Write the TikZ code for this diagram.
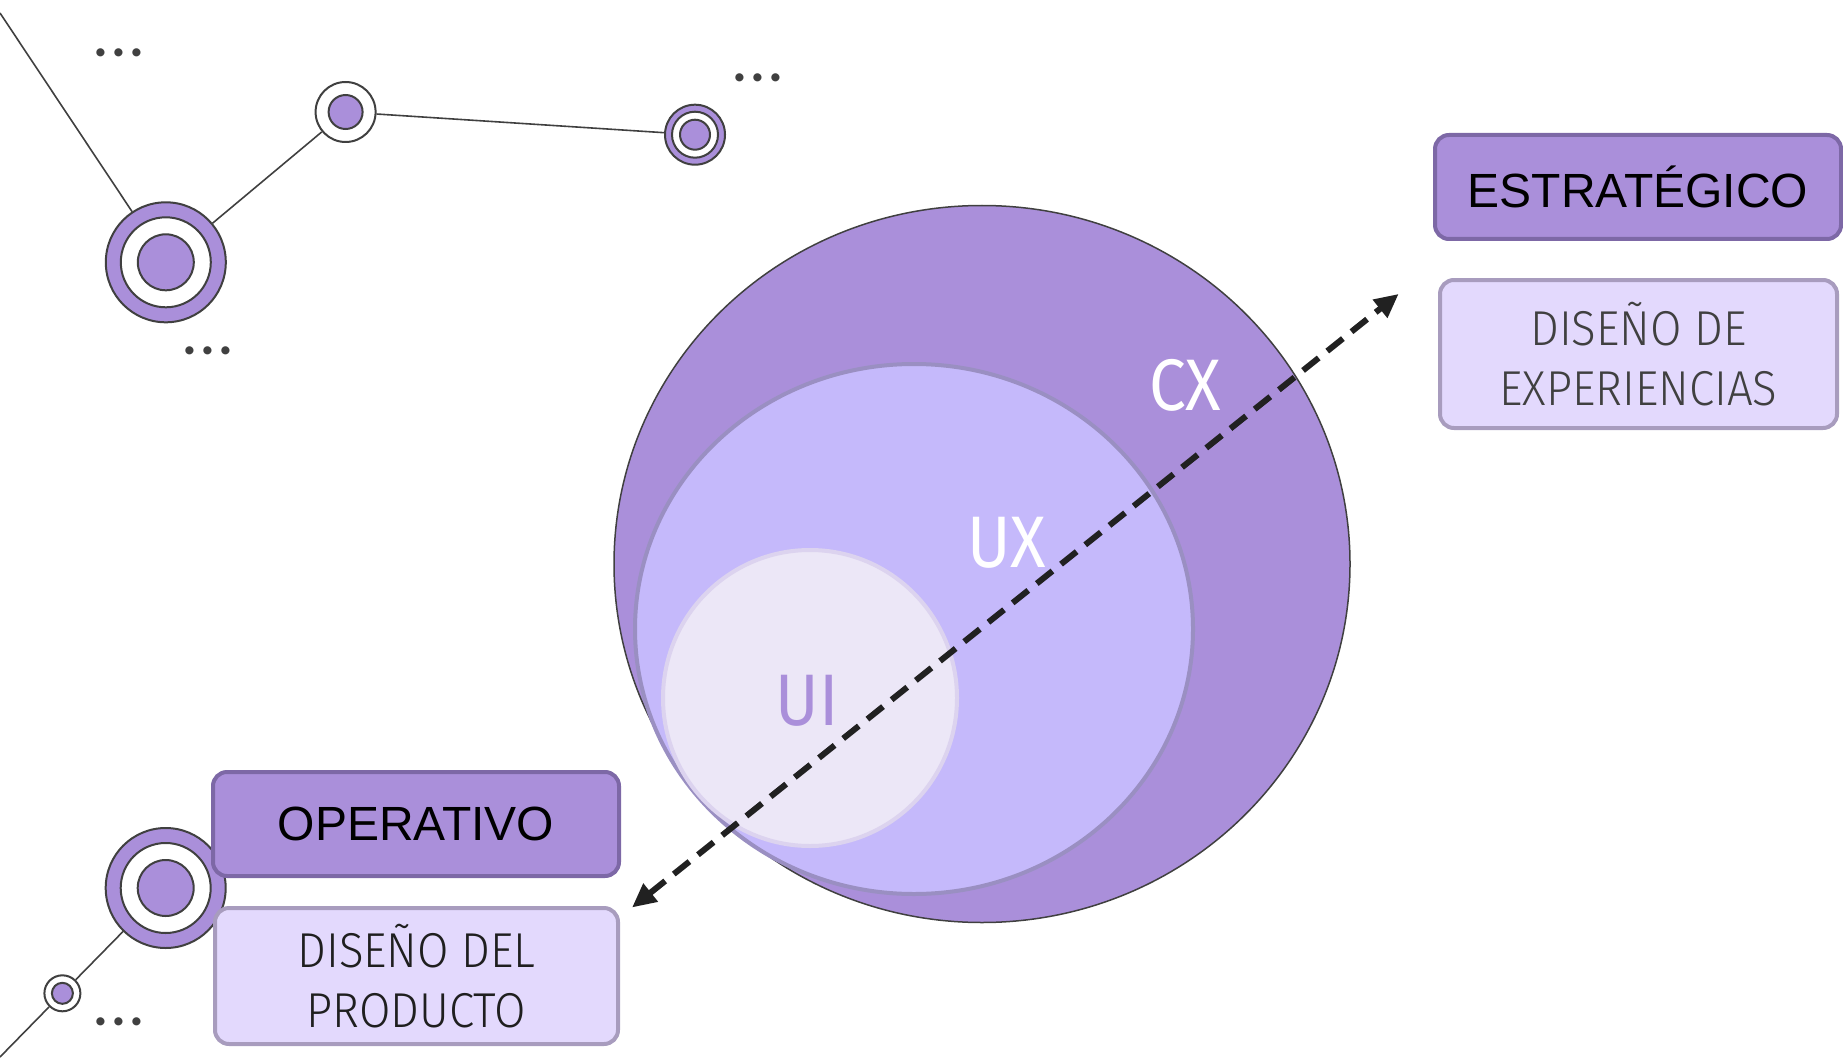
\documentclass[tikz,border=0pt]{standalone}
\usepackage{fontspec}
\setmainfont{Liberation Sans}
\newfontfamily\cond[UprightFont={* Light}, FakeStretch=0.93]{Fira Sans}
\newfontfamily\condlab[FakeStretch=0.9]{Fira Sans}
\newfontfamily\dotfont{Lato}
\newcommand{\mydots}{.\hspace{5pt}.\hspace{5pt}.}
\usetikzlibrary{arrows.meta,shapes.geometric}
\definecolor{purp}{HTML}{AA8FDA}
\definecolor{edge}{HTML}{404040}
\definecolor{boxedge}{HTML}{7D68A6}
\definecolor{lightfill}{HTML}{E3D9FD}
\definecolor{lightedge}{HTML}{A89CBE}
\definecolor{uxfill}{HTML}{C5B9FB}
\definecolor{uxedge}{HTML}{9A8FC2}
\definecolor{uifill}{HTML}{ECE7F7}
\definecolor{uiedge}{HTML}{DCD3EF}
\definecolor{txtgray}{HTML}{404040}
\begin{document}
\begin{tikzpicture}[x=1pt,y=-1pt,
  ring/.style={circle, draw=edge, line width=2pt, inner sep=0pt, minimum size=#1},
  conn/.style={draw=edge, line width=1.6pt},
  darkbox/.style={rounded corners=14pt, fill=purp, draw=boxedge, line width=4pt, inner sep=0pt,
    font=\fontsize{48}{57}\selectfont, text=black},
  lightbox/.style={rounded corners=14pt, fill=lightfill, draw=lightedge, line width=4pt, inner sep=0pt,
    font=\cond\fontsize{49}{60}\selectfont, text=txtgray, align=center},
  biglabel/.style={font=\condlab\fontsize{73}{73}\selectfont},
  dots/.style={font=\dotfont\bfseries\fontsize{54}{54}\selectfont, text=edge, anchor=base, inner sep=0pt},
  darrow/.style={draw=black!87, line width=6pt, dash pattern=on 20pt off 11pt,
    {Triangle[length=24pt,width=22pt]}-{Triangle[length=24pt,width=22pt]}}
]
\useasboundingbox (0,0) rectangle (1843,1059);

% connector free ends
\coordinate (tl) at (0,13);
\coordinate (bl) at (0,1057);

% network nodes (top-left)
\node[ring=120, fill=purp] (b1) at (165.8,262.3) {};
\node[ring=90, fill=white] (b1w) at (165.8,262.3) {};
\node[ring=56, fill=purp] (b1i) at (165.8,262.3) {};

\node[ring=60, fill=white] (n2) at (345.6,112) {};
\node[ring=34, fill=purp] (n2i) at (345.6,112) {};

\node[ring=60, fill=purp] (n3) at (695,134.7) {};
\node[ring=46, fill=white] (n3w) at (695,134.7) {};
\node[ring=30, fill=purp] (n3i) at (695,134.7) {};

% network nodes (bottom-left)
\node[ring=120, fill=purp] (b2) at (165.7,888) {};
\node[ring=90, fill=white] (b2w) at (165.7,888) {};
\node[ring=56, fill=purp] (b2i) at (165.7,888) {};

\node[ring=36, fill=white] (sm) at (62.4,993.3) {};
\node[ring=21, fill=purp] (smi) at (62.4,993.3) {};

% connectors
\draw[conn] (tl) -- (b1);
\draw[conn] (b1) -- (n2);
\draw[conn] (n2) -- (n3);
\draw[conn] (bl) -- (sm);
\draw[conn] (sm) -- (b2);

% dots
\node[dots] (d1) at (119,57) {\mydots};
\node[dots] (d2) at (758,82) {\mydots};
\node[dots] (d3) at (208,354) {\mydots};
\node[dots] (d4) at (119,1025) {\mydots};

% main diagram
\node[ellipse, fill=purp, draw=edge, line width=1.5pt, inner sep=0pt,
  minimum width=736, minimum height=717] (cx) at (982,564) {};
\node[ellipse, fill=uxfill, draw=uxedge, line width=4pt, inner sep=0pt,
  minimum width=558, minimum height=530] (ux) at (914,629) {};
\node[ellipse, fill=uifill, draw=uiedge, line width=4pt, inner sep=0pt,
  minimum width=294, minimum height=296] (ui) at (810,698) {};

\node[biglabel, text=white] (cxl) at (1185,385) {CX};
\node[biglabel, text=white] (uxl) at (1007,543) {UX};
\node[biglabel, text=purp] (uil) at (807,701) {UI};

% boxes
\node[darkbox, minimum width=406, minimum height=104] (estr) at (1638,187) {ESTRATÉGICO};
\node[lightbox, minimum width=397, minimum height=148] (dexp) at (1638.5,354) {DISEÑO DE\\EXPERIENCIAS};
\node[darkbox, minimum width=406, minimum height=104] (oper) at (416,824) {OPERATIVO};
\node[lightbox, minimum width=403, minimum height=136, text=black!88] (dprod) at (416.5,976) {DISEÑO DEL\\PRODUCTO};

% arrow
\coordinate (a1) at (1398.7,293.9);
\coordinate (a2) at (632,907.5);
\draw[darrow] (a2) -- (a1);
\end{tikzpicture}
\end{document}
